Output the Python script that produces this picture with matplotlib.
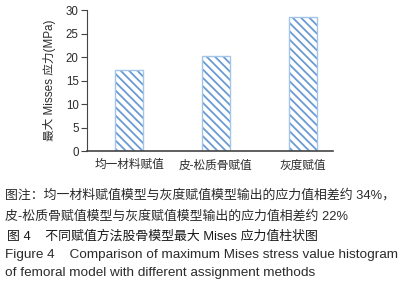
import matplotlib
matplotlib.use("Agg")
import matplotlib.pyplot as plt

plt.rcParams['font.family'] = ['Liberation Sans', 'Noto Sans CJK SC', 'DejaVu Sans']
plt.rcParams['hatch.linewidth'] = 1.3
plt.rcParams['axes.unicode_minus'] = False

# data
categories = ["均一材料赋值", "皮-松质骨赋值", "灰度赋值"]
values = [17.3, 20.2, 28.5]
yticks = [0, 5, 10, 15, 20, 25, 30]
ylabel = "最大 Misses 应力(MPa)"
caption = [
    "图注：均一材料赋值模型与灰度赋值模型输出的应力值相差约 34%，",
    "皮-松质骨赋值模型与灰度赋值模型输出的应力值相差约 22%",
]
title_cn = "图 4    不同赋值方法股骨模型最大 Mises 应力值柱状图"
title_en = [
    "Figure 4    Comparison of maximum Mises stress value histogram",
    "of femoral model with different assignment methods",
]

txt = "#2b2b2b"
fig = plt.figure(figsize=(4.07, 2.89), dpi=100)
ax = fig.add_axes([0.2138, 0.4775, 0.6044, 0.4875])

x = list(range(len(categories)))
ax.bar(x, values, width=0.32, color="white", edgecolor="#6b9bd2",
       hatch="\\\\\\\\", linewidth=0)
# lighter outline on top of the hatch
ax.bar(x, values, width=0.32, fill=False, edgecolor="#a3c5ea", linewidth=1.0)

ax.set_xlim(-0.483, 2.35)
ax.set_ylim(0, 30)
ax.set_yticks(yticks)
ax.set_xticks(x)
ax.set_xticklabels(categories, fontsize=8.4, color=txt)
ax.tick_params(axis="x", length=0, pad=6)
ax.tick_params(axis="y", direction="out", length=4, width=0.8, colors="#444444",
               labelsize=8.3, labelcolor=txt, pad=2)
for s in ["top", "right"]:
    ax.spines[s].set_visible(False)
ax.spines["left"].set_color("#444444")
ax.spines["bottom"].set_color("#444444")
ax.spines["bottom"].set_linewidth(1.2)
ax.set_ylabel(ylabel, fontsize=8.4, color=txt, labelpad=7)

fs_cn = 9.3
fs_en = 9.7
fig.text(0.012, 1 - 195 / 289, caption[0], fontsize=fs_cn, color=txt, va="center")
fig.text(0.012, 1 - 216 / 289, caption[1], fontsize=fs_cn, color=txt, va="center")
fig.text(0.018, 1 - 236 / 289, title_cn, fontsize=fs_cn, color="#1a1a1a",
         va="center")
fig.text(0.012, 1 - 255 / 289, title_en[0], fontsize=fs_en, color=txt, va="center")
fig.text(0.012, 1 - 273 / 289, title_en[1], fontsize=fs_en, color=txt, va="center")

fig.savefig("out.png", dpi=100)
